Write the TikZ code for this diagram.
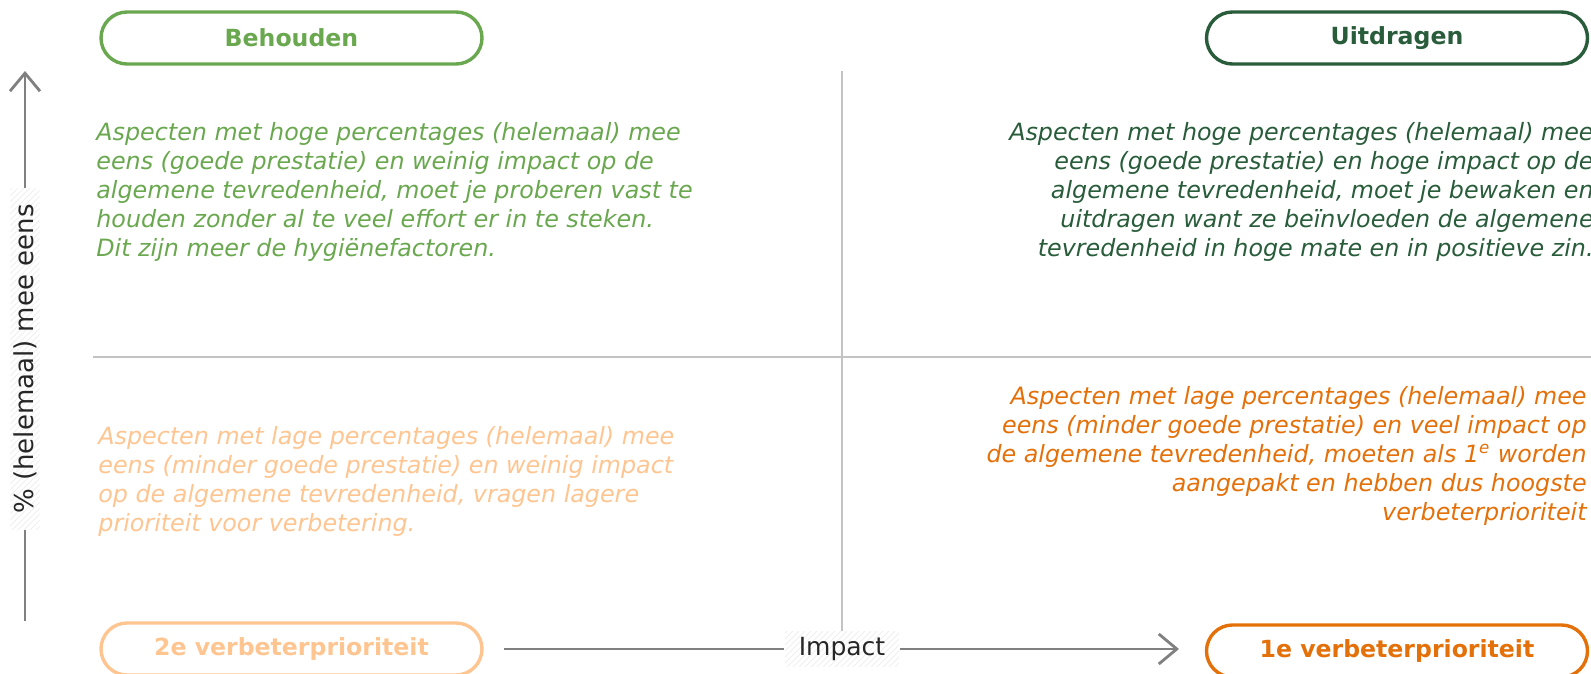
\documentclass[tikz,border=0pt]{standalone}
\usepackage{fontspec}
\setmainfont{DejaVu Sans}
\usetikzlibrary{positioning}
\usetikzlibrary{arrows.meta}
\usetikzlibrary{patterns}

\definecolor{behoudgreen}{RGB}{106,168,79}
\definecolor{uitdraggreen}{RGB}{40,92,58}
\definecolor{prio2orange}{RGB}{255,197,145}
\definecolor{prio1orange}{RGB}{228,112,10}
\definecolor{axisgray}{RGB}{128,128,128}
\definecolor{gridgray}{RGB}{195,195,195}

\tikzset{
    pill/.style={draw, line width=1.7pt, rounded corners=13pt, minimum width=190.5pt,
        minimum height=26pt, inner sep=0pt, font=\bfseries\fontsize{11.8}{14}\selectfont},
    quadtext/.style={inner sep=0pt, font=\itshape\fontsize{11.9}{14.45}\selectfont},
    axislabel/.style={preaction={fill=white}, pattern=north east lines,
        pattern color=gray!12, text=black!85},
    axisline/.style={draw=axisgray, line width=1.4pt},
    gridline/.style={draw=gridgray, line width=0.6pt}
}

\begin{document}
\begin{tikzpicture}[x=0.5pt, y=-0.5pt, >={Straight Barb[length=9pt, width=15pt]}]
    \useasboundingbox (0,0) rectangle (1591,674);
    %Grid
    \coordinate (gtop) at (842,71);
    \coordinate (gbottom) at (842,631);
    \coordinate (gleft) at (93,357);
    \coordinate (gright) at (1591,357);
    \draw[gridline] (gtop) -- (gbottom);
    \draw[gridline] (gleft) -- (gright);
    %Pills
    \node[pill, draw=behoudgreen, text=behoudgreen] (behouden) at (291.5,38) {Behouden};
    \node[pill, draw=uitdraggreen, text=uitdraggreen] (uitdragen) at (1397,38) {Uitdragen};
    \node[pill, draw=prio2orange, text=prio2orange] (prio2) at (291.5,649) {2e verbeterprioriteit};
    \node[pill, draw=prio1orange, text=prio1orange] (prio1) at (1397,651) {1e verbeterprioriteit};
    %Texts
    \node[quadtext, text=behoudgreen, align=left, anchor=north west] (tbehouden) at (96,122)
        {Aspecten met hoge percentages (helemaal) mee\\
         eens (goede prestatie) en weinig impact op de\\
         algemene tevredenheid, moet je proberen vast te\\
         houden zonder al te veel effort er in te steken.\\
         Dit zijn meer de hygiënefactoren.};
    \node[quadtext, text=uitdraggreen, align=right, anchor=north east] (tuitdragen) at (1594,122)
        {Aspecten met hoge percentages (helemaal) mee\\
         eens (goede prestatie) en hoge impact op de\\
         algemene tevredenheid, moet je bewaken en\\
         uitdragen want ze beïnvloeden de algemene\\
         tevredenheid in hoge mate en in positieve zin.};
    \node[quadtext, text=prio2orange, align=left, anchor=north west] (tprio2) at (98,426)
        {Aspecten met lage percentages (helemaal) mee\\
         eens (minder goede prestatie) en weinig impact\\
         op de algemene tevredenheid, vragen lagere\\
         prioriteit voor verbetering.};
    \node[quadtext, text=prio1orange, align=right, anchor=north east] (tprio1) at (1587,386)
        {Aspecten met lage percentages (helemaal) mee\\
         eens (minder goede prestatie) en veel impact op\\
         de algemene tevredenheid, moeten als 1\textsuperscript{e} worden\\
         aangepakt en hebben dus hoogste\\
         verbeterprioriteit};
    %Axes
    \coordinate (ybottom) at (25,621);
    \coordinate (ytop) at (25,71);
    \coordinate (xstart) at (504,649);
    \coordinate (xend) at (1179,649);
    \node[axislabel, rotate=90, inner xsep=8pt, inner ysep=1.5pt,
        font=\fontsize{13}{15}\selectfont] (ylabel) at (25,359) {\% (helemaal) mee eens};
    \node[axislabel, inner xsep=7pt, inner ysep=3pt,
        font=\fontsize{12.5}{15}\selectfont] (xlabel) at (842,649) {Impact};
    \draw[axisline] (ybottom) -- (ylabel.west);
    \draw[axisline, ->] (ylabel.east) -- (ytop);
    \draw[axisline] (xstart) -- (xlabel.west);
    \draw[axisline, ->] (xlabel.east) -- (xend);
\end{tikzpicture}
\end{document}
